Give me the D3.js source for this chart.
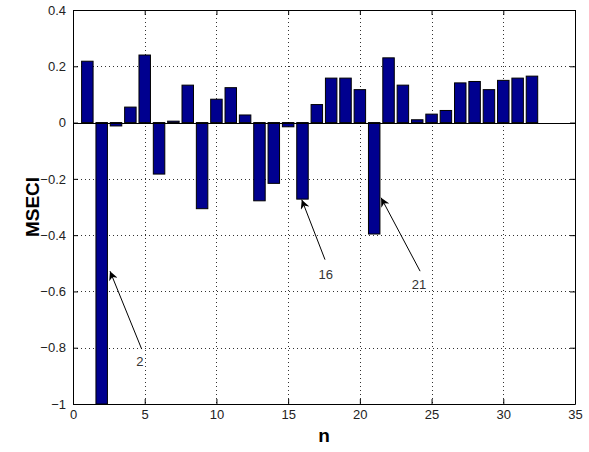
<!DOCTYPE html>
<html><head><meta charset="utf-8">
<script src="https://cdn.jsdelivr.net/npm/d3@7"></script>
<style>body{margin:0;background:#fff}svg{display:block}</style>
</head><body>
<script>
const nValues = d3.range(1, 33);
const mseci = [0.218, -1.0, -0.012, 0.055, 0.240, -0.183, 0.005, 0.133, -0.306, 0.083,
  0.124, 0.027, -0.278, -0.216, -0.015, -0.272, 0.064, 0.158, 0.158, 0.117,
  -0.396, 0.230, 0.133, 0.010, 0.030, 0.043, 0.141, 0.146, 0.117, 0.150, 0.158, 0.165];
const xTicks = [0, 5, 10, 15, 20, 25, 30, 35];
const yTicks = [-1, -0.8, -0.6, -0.4, -0.2, 0, 0.2, 0.4];
const annLabels = ["2", "16", "21"];
const annTip = [[2.58, -0.528], [15.95, -0.274], [21.48, -0.267]];
const annTail = [[4.79, -0.805], [17.57, -0.487], [24.2, -0.528]];
const annText = [[4.67, -0.85], [17.62, -0.54], [24.13, -0.575]];

const W = 589, H = 452;
const m = {l: 73, r: 14, t: 10, b: 48};
const svg = d3.select("body").append("svg").attr("width", W).attr("height", H);
const x = d3.scaleLinear().domain([0, 35]).range([m.l, W - m.r]);
const y = d3.scaleLinear().domain([-1, 0.4]).range([H - m.b, m.t]);
const font = "Liberation Sans, Arial, sans-serif";

// grid
const g = svg.append("g").attr("stroke", "#000").attr("stroke-width", 1).attr("stroke-dasharray", "1,3").attr("opacity", 0.8);
xTicks.slice(1, -1).forEach(t => g.append("line").attr("x1", Math.round(x(t)) + 0.5).attr("x2", Math.round(x(t)) + 0.5).attr("y1", y(0.4)).attr("y2", y(-1)));
yTicks.slice(1, -1).forEach(t => g.append("line").attr("y1", Math.round(y(t)) + 0.5).attr("y2", Math.round(y(t)) + 0.5).attr("x1", x(0)).attr("x2", x(35)));

// bars
const bw = x(0.8) - x(0);
svg.append("g").selectAll("rect").data(nValues).join("rect")
  .attr("x", (d) => x(d) - bw / 2)
  .attr("width", bw)
  .attr("y", (d, i) => y(Math.max(0, mseci[i])))
  .attr("height", (d, i) => Math.abs(y(mseci[i]) - y(0)))
  .attr("fill", "#00008f").attr("stroke", "#000").attr("stroke-width", 1);

// zero baseline
svg.append("line").attr("x1", x(0)).attr("x2", x(35)).attr("y1", Math.round(y(0)) + 0.5).attr("y2", Math.round(y(0)) + 0.5).attr("stroke", "#000");

// axes (ticks inside, box)
const tl = 5;
const axB = svg.append("g").attr("transform", `translate(0,${y(-1)})`)
  .call(d3.axisBottom(x).tickValues(xTicks).tickSizeInner(-tl).tickSizeOuter(0).tickPadding(6).tickFormat(d3.format("d")));
const axT = svg.append("g").attr("transform", `translate(0,${y(0.4)})`)
  .call(d3.axisTop(x).tickValues(xTicks).tickSizeInner(-tl).tickSizeOuter(0).tickFormat(""));
const axL = svg.append("g").attr("transform", `translate(${x(0)},0)`)
  .call(d3.axisLeft(y).tickValues(yTicks).tickSizeInner(-tl).tickSizeOuter(0).tickPadding(7).tickFormat(d => d3.format("")(+d.toFixed(1))));
const axR = svg.append("g").attr("transform", `translate(${x(35)},0)`)
  .call(d3.axisRight(y).tickValues(yTicks).tickSizeInner(-tl).tickSizeOuter(0).tickFormat(""));
[axB, axT, axL, axR].forEach(a => {
  a.selectAll(".domain").attr("stroke", "#000");
  a.selectAll(".tick line").attr("stroke", "#000");
  a.selectAll("text").attr("font-family", font).attr("font-size", 13).attr("fill", "#222");
});

// axis labels
svg.append("text").attr("x", (x(0) + x(35)) / 2).attr("y", 442).attr("text-anchor", "middle")
  .attr("font-family", font).attr("font-size", 19).attr("font-weight", "bold").text("n");
svg.append("text").attr("transform", `translate(39,${(y(-1) + y(0.4)) / 2}) rotate(-90)`).attr("text-anchor", "middle")
  .attr("font-family", font).attr("font-size", 19).attr("font-weight", "bold").text("MSECI");

// annotations
const defs = svg.append("defs");
defs.append("marker").attr("id", "ah").attr("viewBox", "0 0 10 10").attr("refX", 10).attr("refY", 5)
  .attr("markerWidth", 11).attr("markerHeight", 9).attr("markerUnits", "userSpaceOnUse").attr("orient", "auto")
  .append("path").attr("d", "M0,0 L10,5 L0,10 L3,5 Z").attr("fill", "#000");
annLabels.forEach((lab, i) => {
  svg.append("line").attr("x1", x(annTail[i][0])).attr("y1", y(annTail[i][1]))
    .attr("x2", x(annTip[i][0])).attr("y2", y(annTip[i][1]))
    .attr("stroke", "#000").attr("stroke-width", 1).attr("marker-end", "url(#ah)");
  svg.append("text").attr("x", x(annText[i][0])).attr("y", y(annText[i][1])).attr("dy", "0.35em")
    .attr("text-anchor", "middle").attr("font-family", font).attr("font-size", 13).attr("fill", "#333").text(lab);
});
</script>
</body></html>
